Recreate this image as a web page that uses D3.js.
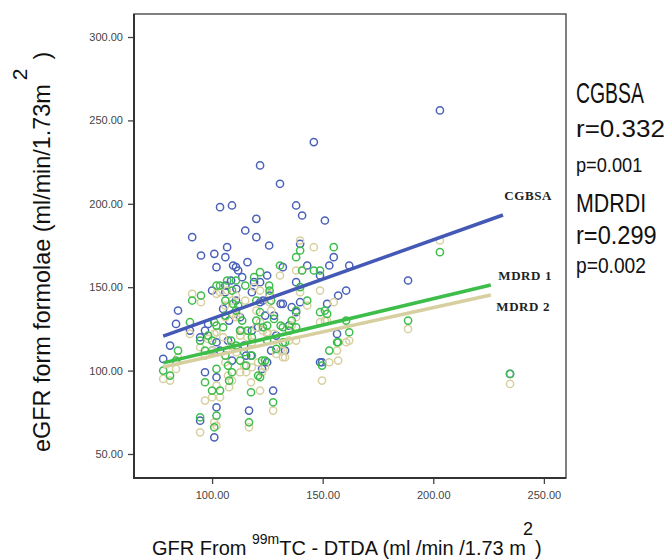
<!DOCTYPE html>
<meta charset="utf-8">
<style>
body { margin: 0; background: #fff; }
.tick text { font-family: Arial, "Liberation Sans", sans-serif; font-size: 11px; fill: #444; }
.tick line { stroke: #444; stroke-width: 1.3; }
.dot { fill: none; stroke-width: 1.5; }
</style>
<svg width="672" height="560"></svg>
<script src="https://d3js.org/d3.v7.min.js"></script>
<script>

// one entry per subject: GFR from DTPA, then the three estimates
var gfr   = [77.9,81,83.7,84.6,90,91,94.6,95,96.8,100,101,102,102,102,94.6,101,102,103.6,106,106.8,109,110.8,111.8,113.6,108.6,115,116,111,106,119,120,120,121.7,121.7,121.7,122.6,124.9,125.8,124.9,127.6,128,130.7,132,132,134.8,136,138,138,138,139.8,139.8,140.7,146,148.8,148.8,149.7,151,152,153,155,156.5,157,160.6,162,188.6,203,234.7,98.2,107.7,116.7,117.6,112.7,114.5,120.8,123,124,133,131,143,126.7,106,110.8,112.7,118,115.4,109,103.6,100,107.2,96.8,109.5,105,126,118,129];
var cgbsa = [107,115,128,136,124,180,120,169,99,112,170,117,96,78,70,60,162,198,151,174,199,162,160,156,154,184,165,149,147,153,191,180,223,153,141,101,105,175,157,88,133,212,162,140,127,138,199,153,135,176,141,193,237,157,105,105,190,140,163,168,122,145,148,163,154,256,98,128,130,76,109,124,115,126,142,133,112,140,163,112,168,142,132,124,109,106,112,148,118,124,163,137,145,147,121];
var mdrd1 = [100,97,106,112,129,142,118,145,93,88,129,127,101,73,72,66,151,151,142,154,148,154,139,130,118,151,124,115,109,156,142,130,159,135,96,106,127,151,118,81,131,163,126,117,124,130,168,126,136,172,150,160,160,160,135,103,136,134,112,174,117,117,130,123,130,171,98,121,94,69,87,106,111,97,126,106,117,127,142,142,133,136,124,120,103,99,88,118,103,112,140,126,148,109,113];
var mdrd2 = [95,94,101,108,122,146,114,141,82,84,122,123,91,67,63,69,146,147,139,148,142,145,133,124,115,142,120,111,105,150,136,126,148,129,88,99,123,146,122,76,122,157,112,108,118,127,160,118,132,178,147,160,174,148,129,94,130,130,105,141,112,106,117,118,125,178,92,119,90,66,93,99,103,105,124,102,108,112,139,136,132,132,121,117,99,94,84,112,97,109,134,120,141,102,110];

// fitted lines, end points
var fitCG = [[77.9, 120.7], [231.5, 193.3]];
var fitM1 = [[77.9, 104.6], [226, 151.3]];
var fitM2 = [[77.9, 102.2], [226, 145.3]];

var xTicks = [100, 150, 200, 250];
var yTicks = [50, 100, 150, 200, 250, 300];

var svg = d3.select("svg"),
    margin = {top: 14, right: 106, bottom: 82, left: 134},
    width = +svg.attr("width") - margin.left - margin.right,
    height = +svg.attr("height") - margin.top - margin.bottom;

var x = d3.scaleLinear().domain([64.7, 260]).range([0, width]);
var y = d3.scaleLinear().domain([35.6, 313.8]).range([height, 0]);

var g = svg.append("g")
    .attr("transform", "translate(" + margin.left + "," + margin.top + ")");

// axes
var xAxis = g.append("g")
    .attr("transform", "translate(0," + height + ")")
    .call(d3.axisBottom(x).tickValues(xTicks).tickFormat(d3.format(".2f")).tickSize(6).tickPadding(7));
var yAxis = g.append("g")
    .call(d3.axisLeft(y).tickValues(yTicks).tickFormat(d3.format(".2f")).tickSize(6).tickPadding(5));
xAxis.select(".domain").remove();
yAxis.select(".domain").remove();

// frame
g.append("rect")
    .attr("width", width).attr("height", height)
    .attr("fill", "none").attr("stroke", "#555").attr("stroke-width", 1.5);
g.append("path")
    .attr("d", "M0,0V" + height + "H" + width)
    .attr("fill", "none").attr("stroke", "#333").attr("stroke-width", 2);

var series = [
  {vals: cgbsa, color: "#4a61b8"},
  {vals: mdrd2, color: "#d8d0a0"},
  {vals: mdrd1, color: "#3dbd4b"}
];

series.forEach(function(s) {
  g.append("g").selectAll("circle")
    .data(gfr)
    .enter().append("circle")
      .attr("class", "dot")
      .attr("cx", function(d) { return x(d); })
      .attr("cy", function(d, i) { return y(s.vals[i]); })
      .attr("r", 3.6)
      .attr("stroke", s.color);
});

var line = d3.line().x(function(d) { return x(d[0]); }).y(function(d) { return y(d[1]); });
[[fitM2, "#d7cf9f"], [fitCG, "#4459b5"], [fitM1, "#3dbd4a"]].forEach(function(f) {
  g.append("path")
    .attr("d", line(f[0]))
    .attr("fill", "none")
    .attr("stroke", f[1])
    .attr("stroke-width", 3.5);
});

// line labels
var lab = [["CGBSA", 253.7, 202], ["MDRD 1", 253.7, 154.5], ["MDRD 2", 252.8, 136]];
lab.forEach(function(l) {
  g.append("text")
    .attr("x", x(l[1])).attr("y", y(l[2]))
    .attr("text-anchor", "end")
    .attr("font-family", "'Liberation Serif', 'DejaVu Serif', serif")
    .attr("font-weight", "bold")
    .attr("font-size", 13)
    .attr("letter-spacing", 0.6)
    .attr("fill", "#222")
    .text(l[0]);
});

// stats on the right: text, baseline, font size, vertical stretch
var stats = [["CGBSA", 103, 19.4, 1.5], ["r=0.332", 137, 26, 0.92], ["p=0.001", 172, 18.2, 1.15],
             ["MDRDI", 212, 21.4, 1.22], ["r=0.299", 244, 23.6, 1.12], ["p=0.002", 273, 19.2, 1.15]];
stats.forEach(function(s) {
  svg.append("text")
    .attr("transform", "translate(576," + s[1] + ") scale(1," + s[3] + ")")
    .attr("font-family", "Arial, 'Liberation Sans', sans-serif")
    .attr("font-size", s[2])
    .attr("fill", "#111")
    .text(s[0]);
});

// y title
var yt = svg.append("text")
    .attr("transform", "translate(50,452) rotate(-90)")
    .attr("font-family", "Arial, 'Liberation Sans', sans-serif")
    .attr("font-size", 23.4)
    .attr("fill", "#111");
yt.append("tspan").text("eGFR form formolae (ml/min/1.73m");
yt.append("tspan").attr("dy", -23).attr("dx", 4).attr("font-size", 21).text("2");
yt.append("tspan").attr("dy", 23).attr("dx", 9).text(")");

// x title
var xt = svg.append("text")
    .attr("x", 152).attr("y", 555)
    .attr("font-family", "Arial, 'Liberation Sans', sans-serif")
    .attr("font-size", 20)
    .attr("fill", "#111");
xt.append("tspan").text("GFR From ");
xt.append("tspan").attr("dy", -11).attr("font-size", 14).text("99m");
xt.append("tspan").attr("dy", 11).text("TC - DTDA (ml /min /1.73 m");
xt.append("tspan").attr("dy", -20).attr("dx", -3).attr("font-size", 18).text("2");
xt.append("tspan").attr("dy", 20).attr("dx", 2).text(")");

</script>
